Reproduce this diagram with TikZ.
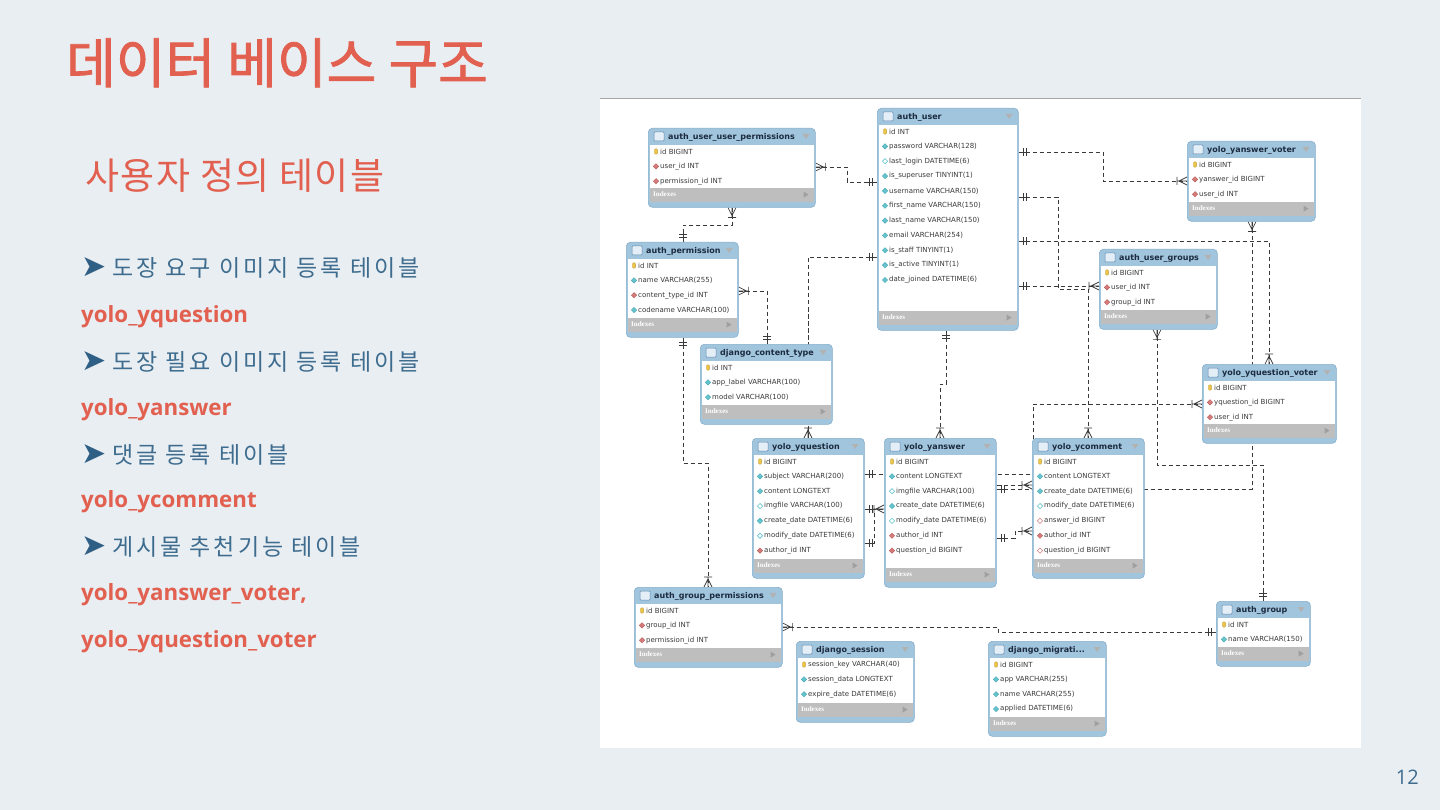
\documentclass[tikz,border=0pt]{standalone}
\usepackage{fontspec}
\usetikzlibrary{calc,shapes.geometric}
\newfontfamily\krfont[LetterSpace=4]{Noto Sans CJK KR}
\newfontfamily\krtitle[FakeBold=1.5]{Noto Sans CJK KR}
\newfontfamily\krbul[LetterSpace=13]{Noto Sans CJK KR}
\newfontfamily\dfont{DejaVu Sans}
\newfontfamily\symfont{DejaVu Sans}
\newfontfamily\latfont{Open Sans}
\newfontfamily\idxfont{Liberation Serif}
\definecolor{bgc}{HTML}{E9EEF3}
\definecolor{titred}{HTML}{E2604F}
\definecolor{blu}{HTML}{3E6C8E}
\definecolor{arrb}{HTML}{2F5F85}
\definecolor{thead}{HTML}{A1C5DD}
\definecolor{tbord}{HTML}{85AECB}
\definecolor{tname}{HTML}{1C2B3F}
\definecolor{idxg}{HTML}{BEBEBE}
\definecolor{lnc}{HTML}{3A3A3A}
\definecolor{rowt}{HTML}{3A3A3A}
\definecolor{keyy}{HTML}{EDC64A}
\definecolor{colc}{HTML}{64C5CE}
\definecolor{colb}{HTML}{4DA9B3}
\definecolor{fkc}{HTML}{D67B79}
\definecolor{fkb}{HTML}{B65F5D}
\definecolor{icf}{HTML}{E4EEF7}
\definecolor{icb}{HTML}{5F88B0}
\pgfdeclarelayer{back}
\pgfdeclarelayer{lines}
\pgfsetlayers{back,lines,main}
\tikzset{
  tframe/.style={draw=tbord, fill=thead, rounded corners=4pt, inner sep=0pt, line width=0.6pt},
  ttl/.style={anchor=west, inner sep=0pt, text=tname, font=\dfont\bfseries\fontsize{8}{9}\selectfont},
  idxtxt/.style={anchor=west, inner sep=0pt, text=white, font=\idxfont\bfseries\fontsize{7}{8}\selectfont},
  rowtxt/.style={anchor=west, inner sep=0pt, text=rowt, font=\dfont\fontsize{7}{8}\selectfont},
  kic/.style={shape=rectangle, rounded corners=1.2pt, fill=keyy, draw=keyy!80!black, line width=0.3pt, minimum width=3.2pt, minimum height=5.5pt, inner sep=0pt},
  colic/.style={shape=diamond, fill=colc, draw=colb, line width=0.4pt, minimum size=5.5pt, inner sep=0pt},
  nulic/.style={shape=diamond, fill=white, draw=colc, line width=0.6pt, minimum size=5.5pt, inner sep=0pt},
  fkic/.style={shape=diamond, fill=fkc, draw=fkb, line width=0.4pt, minimum size=5.5pt, inner sep=0pt},
  nfkic/.style={shape=diamond, fill=white, draw=fkc, line width=0.6pt, minimum size=5.5pt, inner sep=0pt},
  conn/.style={draw=lnc, line width=0.8pt, dash pattern=on 4.5pt off 2.5pt},
  mk/.style={draw=lnc, line width=0.7pt, solid},
  lefttxt/.style={anchor=base west, inner sep=0pt},
  arrtxt/.style={anchor=base west, inner sep=0pt, text=arrb, font=\symfont\fontsize{30}{30}\selectfont},
  bultxt/.style={anchor=base west, inner sep=0pt, text=blu, font=\krbul\fontsize{23}{26}\selectfont},
  redtxt/.style={anchor=base west, inner sep=0pt, text=titred, font=\latfont\bfseries\fontsize{22.3}{24}\selectfont}
}
\newcommand\dbt[6]{%
  \node[tframe, minimum width=#4pt, minimum height=#5pt, anchor=north west] (#1) at (#2,#3) {};
  \fill[white] ($(#1.north west)+(1.5,17)$) rectangle ($(#1.south east)+(-1.5,-20)$);
  \fill[idxg] ($(#1.south west)+(1.5,-20)$) rectangle ($(#1.south east)+(-1.5,-6)$);
  \node[idxtxt] (#1-idx) at ($(#1.south west)+(5,-13)$) {Indexes};
  \fill[gray!75] ($(#1.south east)+(-12,-16)$) -- ++(0,6) -- ++(5,-3) -- cycle;
  \draw[fill=icf, draw=icb, line width=0.5pt, rounded corners=0.8pt] ($(#1.north west)+(6,4)$) rectangle ++(10,9);
  \node[ttl] (#1-t) at ($(#1.north west)+(20,9)$) {#6};
  \fill[gray!60] ($(#1.north east)+(-13,6)$) -- ++(7,0) -- ++(-3.5,5) -- cycle;
}
\newcommand\rw[4]{%
  \node[#3] (#1-i#2) at ($(#1.north west)+(8,{23.5+14.85*(#2-1)})$) {};
  \node[rowtxt] (#1-r#2) at ($(#1.north west)+(12,{23.5+14.85*(#2-1)})$) {#4};
}
\newcommand\crow[2]{\draw[mk,shift={(#1)},rotate=#2] (-8,0) -- (0,4) (-8,0) -- (0,-4) (-10,0) -- (0,0) (-10,-4) -- (-10,4);}
\newcommand\one[2]{\draw[mk,shift={(#1)},rotate=#2] (-10,0) -- (0,0) (-5,-4) -- (-5,4) (-8,-4) -- (-8,4);}
\begin{document}
\begin{tikzpicture}[x=1pt,y=-1pt]
\useasboundingbox (0,0) rectangle (1440,810);
\begin{pgfonlayer}{back}
  \fill[bgc] (0,0) rectangle (1440,810);
  \fill[white] (600,98) rectangle (1361,748);
  \draw[gray!70, line width=1.2pt] (600,98.6) -- (1361,98.6);
\end{pgfonlayer}

% left texts
\node[lefttxt, text=titred] (title) at (66,83) {\krtitle\fontsize{54}{60}\selectfont 데이터 베이스 구조};
\node[lefttxt, text=titred] (sub) at (85,190) {\krfont\fontsize{37}{42}\selectfont 사용자 정의 테이블};
\node[arrtxt] (a1) at (81,277) {➤};
\node[bultxt] (b1) at (112,277) {도장 요구 이미지 등록 테이블};
\node[redtxt] (r1) at (81,322) {yolo\_yquestion};
\node[arrtxt] (a2) at (81,370) {➤};
\node[bultxt] (b2) at (112,370) {도장 필요 이미지 등록 테이블};
\node[redtxt] (r2) at (81,415) {yolo\_yanswer};
\node[arrtxt] (a3) at (81,463) {➤};
\node[bultxt] (b3) at (112,463) {댓글 등록 테이블};
\node[redtxt] (r3) at (81,507) {yolo\_ycomment};
\node[arrtxt] (a4) at (81,555) {➤};
\node[bultxt] (b4) at (112,555) {게시물 추천기능 테이블};
\node[redtxt] (r4) at (81,600) {yolo\_yanswer\_voter,};
\node[redtxt] (r5) at (81,647) {yolo\_yquestion\_voter};
\node[anchor=base east, inner sep=0pt, text=blu] (pg) at (1419,784) {\latfont\fontsize{20}{24}\selectfont 12};

% tables
\dbt{aup}{648}{128}{167}{79}{auth\_user\_user\_permissions}
\rw{aup}{1}{kic}{id BIGINT}
\rw{aup}{2}{fkic}{user\_id INT}
\rw{aup}{3}{fkic}{permission\_id INT}

\dbt{ap}{626}{242}{112}{95}{auth\_permission}
\rw{ap}{1}{kic}{id INT}
\rw{ap}{2}{colic}{name VARCHAR(255)}
\rw{ap}{3}{fkic}{content\_type\_id INT}
\rw{ap}{4}{colic}{codename VARCHAR(100)}

\dbt{au}{877}{108}{141}{222}{auth\_user}
\rw{au}{1}{kic}{id INT}
\rw{au}{2}{colic}{password VARCHAR(128)}
\rw{au}{3}{nulic}{last\_login DATETIME(6)}
\rw{au}{4}{colic}{is\_superuser TINYINT(1)}
\rw{au}{5}{colic}{username VARCHAR(150)}
\rw{au}{6}{colic}{first\_name VARCHAR(150)}
\rw{au}{7}{colic}{last\_name VARCHAR(150)}
\rw{au}{8}{colic}{email VARCHAR(254)}
\rw{au}{9}{colic}{is\_staff TINYINT(1)}
\rw{au}{10}{colic}{is\_active TINYINT(1)}
\rw{au}{11}{colic}{date\_joined DATETIME(6)}

\dbt{yav}{1187}{141}{128}{80}{yolo\_yanswer\_voter}
\rw{yav}{1}{kic}{id BIGINT}
\rw{yav}{2}{fkic}{yanswer\_id BIGINT}
\rw{yav}{3}{fkic}{user\_id INT}

\dbt{aug}{1099}{249}{118}{80}{auth\_user\_groups}
\rw{aug}{1}{kic}{id BIGINT}
\rw{aug}{2}{fkic}{user\_id INT}
\rw{aug}{3}{fkic}{group\_id INT}

\dbt{dct}{700}{344}{132}{80}{django\_content\_type}
\rw{dct}{1}{kic}{id INT}
\rw{dct}{2}{colic}{app\_label VARCHAR(100)}
\rw{dct}{3}{colic}{model VARCHAR(100)}

\dbt{yqv}{1202}{364}{134}{79}{yolo\_yquestion\_voter}
\rw{yqv}{1}{kic}{id BIGINT}
\rw{yqv}{2}{fkic}{yquestion\_id BIGINT}
\rw{yqv}{3}{fkic}{user\_id INT}

\dbt{yq}{752}{438}{112}{140}{yolo\_yquestion}
\rw{yq}{1}{kic}{id BIGINT}
\rw{yq}{2}{colic}{subject VARCHAR(200)}
\rw{yq}{3}{colic}{content LONGTEXT}
\rw{yq}{4}{nulic}{imgfile VARCHAR(100)}
\rw{yq}{5}{colic}{create\_date DATETIME(6)}
\rw{yq}{6}{nulic}{modify\_date DATETIME(6)}
\rw{yq}{7}{fkic}{author\_id INT}

\dbt{ya}{884}{438}{112}{149}{yolo\_yanswer}
\rw{ya}{1}{kic}{id BIGINT}
\rw{ya}{2}{colic}{content LONGTEXT}
\rw{ya}{3}{nulic}{imgfile VARCHAR(100)}
\rw{ya}{4}{colic}{create\_date DATETIME(6)}
\rw{ya}{5}{nulic}{modify\_date DATETIME(6)}
\rw{ya}{6}{fkic}{author\_id INT}
\rw{ya}{7}{fkic}{question\_id BIGINT}

\dbt{yc}{1032}{438}{112}{140}{yolo\_ycomment}
\rw{yc}{1}{kic}{id BIGINT}
\rw{yc}{2}{colic}{content LONGTEXT}
\rw{yc}{3}{colic}{create\_date DATETIME(6)}
\rw{yc}{4}{nulic}{modify\_date DATETIME(6)}
\rw{yc}{5}{nfkic}{answer\_id BIGINT}
\rw{yc}{6}{fkic}{author\_id INT}
\rw{yc}{7}{nfkic}{question\_id BIGINT}

\dbt{agp}{634}{587}{148}{80}{auth\_group\_permissions}
\rw{agp}{1}{kic}{id BIGINT}
\rw{agp}{2}{fkic}{group\_id INT}
\rw{agp}{3}{fkic}{permission\_id INT}

\dbt{ds}{796}{641}{118}{81}{django\_session}
\rw{ds}{1}{kic}{session\_key VARCHAR(40)}
\rw{ds}{2}{colic}{session\_data LONGTEXT}
\rw{ds}{3}{colic}{expire\_date DATETIME(6)}

\dbt{dm}{988}{641}{118}{95}{django\_migrati...}
\rw{dm}{1}{kic}{id BIGINT}
\rw{dm}{2}{colic}{app VARCHAR(255)}
\rw{dm}{3}{colic}{name VARCHAR(255)}
\rw{dm}{4}{colic}{applied DATETIME(6)}

\dbt{ag}{1216}{601}{94}{65}{auth\_group}
\rw{ag}{1}{kic}{id INT}
\rw{ag}{2}{colic}{name VARCHAR(150)}

% connectors
\begin{pgfonlayer}{lines}
  \draw[conn] (aup.east |- 0,167) -| (847,182) -- (au.west |- 0,182);
  \crow{aup.east |- 0,167}{180} \one{au.west |- 0,182}{0}
  \draw[conn] (732,0 |- aup.south) |- (683,225) -- (683,0 |- ap.north);
  \crow{732,0 |- aup.south}{90} \one{683,0 |- ap.north}{-90}
  \draw[conn] (ap.east |- 0,291) -| (767,0 |- dct.north);
  \crow{ap.east |- 0,291}{180} \one{767,0 |- dct.north}{-90}
  \draw[conn] (au.west |- 0,257) -| (808,0 |- yq.north);
  \one{au.west |- 0,257}{0} \crow{808,0 |- yq.north}{-90}
  \draw[conn] (683,0 |- ap.south) |- (708,463) -- (708,0 |- agp.north);
  \one{683,0 |- ap.south}{90} \crow{708,0 |- agp.north}{-90}
  \draw[conn] (946,0 |- au.south) |- (940,384) -- (940,0 |- ya.north);
  \one{946,0 |- au.south}{90} \crow{940,0 |- ya.north}{-90}
  \draw[conn] (au.east |- 0,152) -| (1103,181) -- (yav.west |- 0,181);
  \one{au.east |- 0,152}{180} \crow{yav.west |- 0,181}{0}
  \draw[conn] (au.east |- 0,197) -| (1058,289) -- (1088,289) -- (1088,0 |- yc.north);
  \one{au.east |- 0,197}{180} \crow{1088,0 |- yc.north}{-90}
  \draw[conn] (au.east |- 0,286) -- (aug.west |- 0,286);
  \one{au.east |- 0,286}{180} \crow{aug.west |- 0,286}{0}
  \draw[conn] (au.east |- 0,241) -| (1269,0 |- yqv.north);
  \one{au.east |- 0,241}{180} \crow{1269,0 |- yqv.north}{-90}
  \draw[conn] (1157,0 |- aug.south) |- (1263,465) -- (1263,0 |- ag.north);
  \crow{1157,0 |- aug.south}{90} \one{1263,0 |- ag.north}{-90}
  \draw[conn] (ya.east |- 0,489) -- (1252,489) -- (1252,0 |- yav.south);
  \one{ya.east |- 0,489}{180} \crow{1252,0 |- yav.south}{90}
  \draw[conn] (ya.east |- 0,485) -- (yc.west |- 0,485);
  \crow{yc.west |- 0,485}{0}
  \draw[conn] (yq.east |- 0,474) -| (1033,404) -- (yqv.west |- 0,404);
  \one{yq.east |- 0,474}{180} \crow{yqv.west |- 0,404}{0}
  \draw[conn] (yq.east |- 0,509) -- (ya.west |- 0,509);
  \one{yq.east |- 0,509}{180} \crow{ya.west |- 0,509}{0}
  \draw[conn] (yq.east |- 0,543) -| (874,509);
  \one{yq.east |- 0,543}{180}
  \draw[conn] (ya.east |- 0,538) -| (1015,531) -- (yc.west |- 0,531);
  \one{ya.east |- 0,538}{180} \crow{yc.west |- 0,531}{0}
  \draw[conn] (agp.east |- 0,627) -| (998,632) -- (ag.west |- 0,632);
  \crow{agp.east |- 0,627}{180} \one{ag.west |- 0,632}{0}
\end{pgfonlayer}
\end{tikzpicture}
\end{document}
